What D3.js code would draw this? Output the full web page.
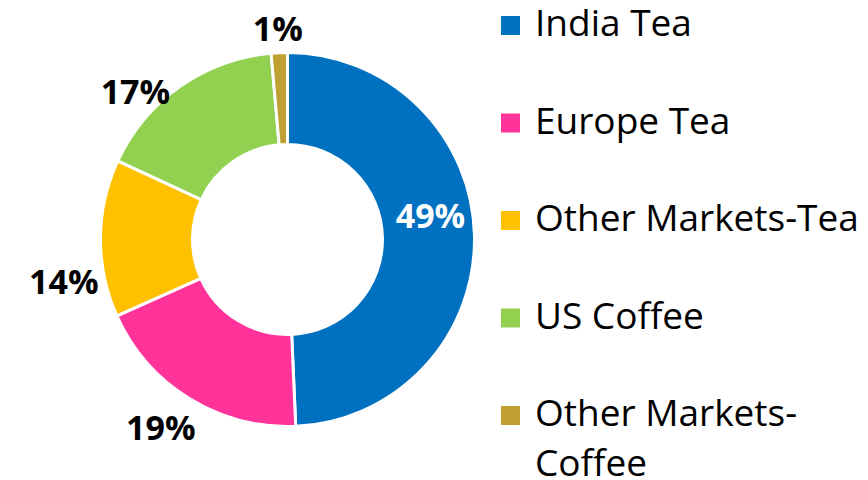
<!DOCTYPE html>
<html>
<head>
<meta charset="utf-8">
<script src="https://cdn.jsdelivr.net/npm/d3@7"></script>
<style>
  html, body { margin: 0; padding: 0; background: #fff; }
  svg { display: block; }
  text { font-family: "Open Sans", "DejaVu Sans", sans-serif; }
</style>
</head>
<body>
<svg id="chart" width="868" height="480"></svg>
<script>
// ---- data ----
const categories = ["India Tea", "Europe Tea", "Other Markets-Tea", "US Coffee", "Other Markets-Coffee"];
const values = [49.3, 19.0, 13.6, 16.7, 1.4];
const colors = ["#0070C0", "#FF3399", "#FFC000", "#92D050", "#C0A032"];
const legendLines = [["India Tea"], ["Europe Tea"], ["Other Markets-Tea"], ["US Coffee"], ["Other Markets-", "Coffee"]];

// ---- layout ----
const W = 868, H = 480;
const cx = 287.5, cy = 239.5, R = 187, r = 95;
// label nudges relative to computed outside-end position
const labelNudge = [[2, -21], [-6, 9], [6, 43], [-20, 24], [0, -1]];

const svg = d3.select("#chart");
const g = svg.append("g").attr("transform", `translate(${cx},${cy})`);

const pie = d3.pie().sort(null).value(d => d)(values);
const arc = d3.arc().innerRadius(r).outerRadius(R);

g.selectAll("path.slice").data(pie).join("path")
  .attr("class", "slice")
  .attr("d", arc)
  .attr("fill", (d, i) => colors[i])
  .attr("stroke", "#fff")
  .attr("stroke-width", 3)
  .attr("stroke-linejoin", "miter");

const fmt = v => Math.round(v) + "%";
const labelSize = 34;
const labels = g.selectAll("text.lbl").data(pie).join("text")
  .attr("class", "lbl")
  .attr("font-size", labelSize)
  .attr("font-weight", 700)
  .attr("text-anchor", "middle")
  .attr("dominant-baseline", "central")
  .attr("fill", (d, i) => i === 0 ? "#fff" : "#000")
  .text(d => fmt(d.data));

labels.each(function(d, i) {
  const a = (d.startAngle + d.endAngle) / 2;
  const s = Math.sin(a), c = -Math.cos(a);
  let x, y;
  if (i === 0) {
    const cpos = arc.centroid(d);
    x = cpos[0]; y = cpos[1];
  } else {
    const w = this.getComputedTextLength();
    const h = labelSize * 0.9;
    const pr = R + 8;
    x = pr * s + s * w / 2;
    y = pr * c + c * h / 2;
  }
  x += labelNudge[i][0];
  y += labelNudge[i][1];
  d3.select(this).attr("x", x).attr("y", y);
});

// ---- legend ----
const legendX = 501, legendTextX = 535, legendTop = 36, legendStep = 97.5, lineH = 50;
const sw = 19, legendSize = 37;
const lg = svg.append("g");
const items = lg.selectAll("g.item").data(categories).join("g").attr("class", "item")
  .attr("transform", (d, i) => `translate(0,${legendTop + i * legendStep})`);
items.append("rect")
  .attr("x", legendX).attr("y", -20).attr("width", sw).attr("height", sw)
  .attr("fill", (d, i) => colors[i]);
items.append("text")
  .attr("x", legendTextX).attr("y", 0)
  .attr("font-size", legendSize)
  .attr("fill", "#000")
  .selectAll("tspan").data((d, i) => legendLines[i]).join("tspan")
  .attr("x", legendTextX)
  .attr("dy", (d, j) => j === 0 ? 0 : lineH)
  .text(d => d);
</script>
</body>
</html>
